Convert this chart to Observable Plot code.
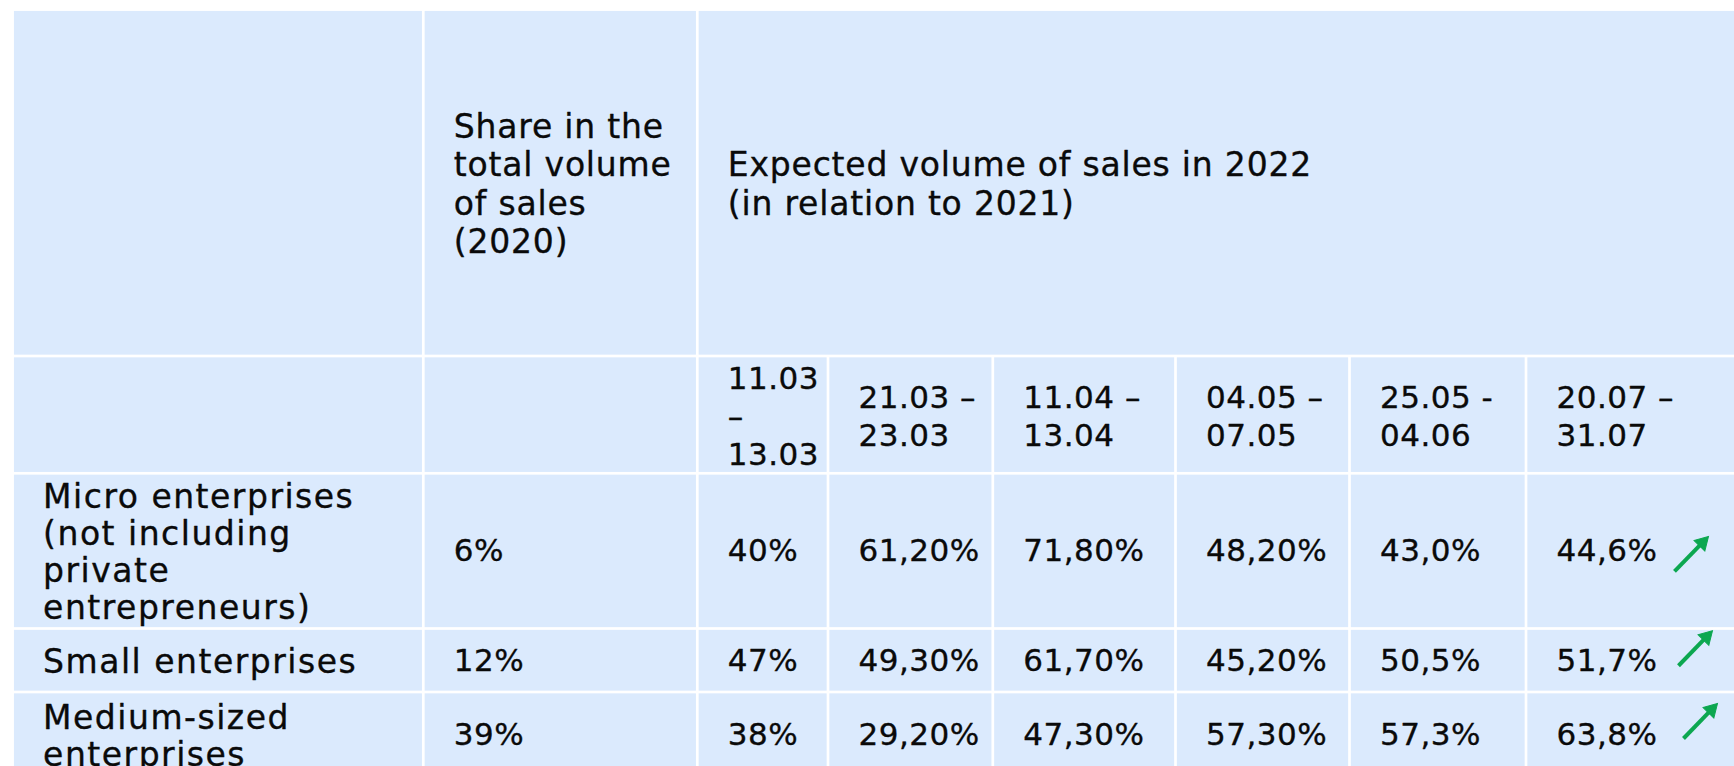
<!DOCTYPE html>
<html>
<head>
<meta charset="utf-8">
<script src="https://cdn.jsdelivr.net/npm/d3@7"></script>
<script src="https://cdn.jsdelivr.net/npm/@observablehq/plot@0.6"></script>
<style>
  html, body { margin: 0; padding: 0; background: #ffffff; overflow: hidden; }
  #chart svg { display: block; }
</style>
</head>
<body>
<div id="chart"></div>
<script>
// ---------------- DATA ----------------
const headerShare = "Share in the\ntotal volume\nof sales\n(2020)";
const headerExpected = "Expected volume of sales in 2022\n(in relation to 2021)";
const periods = ["11.03\n–\n13.03", "21.03 –\n23.03", "11.04 –\n13.04", "04.05 –\n07.05", "25.05 -\n04.06", "20.07 –\n31.07"];
const rowLabels = ["Micro enterprises\n(not including\nprivate\nentrepreneurs)", "Small enterprises", "Medium-sized\nenterprises"];
const share2020 = ["6%", "12%", "39%"];
const expectedMicro  = ["40%", "61,20%", "71,80%", "48,20%", "43,0%", "44,6%"];
const expectedSmall  = ["47%", "49,30%", "61,70%", "45,20%", "50,5%", "51,7%"];
const expectedMedium = ["38%", "29,20%", "47,30%", "57,30%", "57,3%", "63,8%"];
const trend = ["up", "up", "up"];

// ---------------- LAYOUT ----------------
const W = 1734, H = 766;
const colWidths = [410.7, 274, 130.7, 164.8, 182.7, 174, 176.5, 240];
const rowHeights = [346.4, 117.3, 155.2, 63.5, 86];
const origin = [12.6, 9.6];
const gap = 2.7;
const pad = 30;
const arrowBase = {dx: 148, dy: 20, len: [34, -35], head: 13};
const arrowNudge = [[0, 0], [4, -15], [9, -17]];
const cellFill = "#dbeafd";
const ink = "#0a0a0a";
const green = "#0ca750";

const colX = [origin[0]];
colWidths.forEach(w => colX.push(colX[colX.length - 1] + w));
const rowY = [origin[1]];
rowHeights.forEach(h => rowY.push(rowY[rowY.length - 1] + h));
const mid = (a, i) => (a[i] + a[i + 1]) / 2;

// cells
const cells = [];
const cell = (c0, c1, r0, r1) => cells.push({x1: colX[c0], x2: colX[c1], y1: rowY[r0], y2: rowY[r1]});
cell(0, 1, 0, 1); cell(1, 2, 0, 1); cell(2, 8, 0, 1);
for (let r = 1; r < rowHeights.length; r++) for (let c = 0; c < colWidths.length; c++) cell(c, c + 1, r, r + 1);

// texts
const headerTexts = [
  {x: colX[1] + pad, y: mid(rowY, 0), text: headerShare},
  {x: colX[2] + pad, y: mid(rowY, 0), text: headerExpected}
];
const periodTexts = periods.map((p, i) => ({x: colX[2 + i] + pad, y: mid(rowY, 1), text: p}));
const labelTexts = rowLabels.map((l, i) => ({x: colX[0] + pad, y: mid(rowY, 2 + i), text: l}));
const expectedRows = [expectedMicro, expectedSmall, expectedMedium];
const valueTexts = [];
share2020.forEach((v, i) => valueTexts.push({x: colX[1] + pad, y: mid(rowY, 2 + i), text: v}));
expectedRows.forEach((row, i) => row.forEach((v, j) => valueTexts.push({x: colX[2 + j] + pad, y: mid(rowY, 2 + i), text: v})));

// trend arrows: shaft (link) + filled triangular head (rotated dot)
const [ldx, ldy] = arrowBase.len;
const L = Math.hypot(ldx, ldy);
const ux = ldx / L, uy = ldy / L;
const headAngle = Math.atan2(ldx, -ldy) * 180 / Math.PI;
const headToCenter = arrowBase.head * 2 / 3;
const headR = Math.sqrt((arrowBase.head / 3) ** 2 * 3 * Math.sqrt(3) / Math.PI);
const arrows = trend.map((t, i) => {
  if (t !== "up") return null;
  const x1 = colX[7] + arrowBase.dx + arrowNudge[i][0];
  const y1 = mid(rowY, 2 + i) + arrowBase.dy + arrowNudge[i][1];
  const tx = x1 + ldx, ty = y1 + ldy;
  return {x1, y1, hx: tx - ux * headToCenter, hy: ty - uy * headToCenter};
}).filter(d => d);

const font = "DejaVu Sans";
const textStyle = {x: "x", y: "y", text: "text", textAnchor: "start", lineAnchor: "middle", fontFamily: font, fill: ink, stroke: ink, strokeWidth: 0.35};
const chart = Plot.plot({
  width: W, height: H, margin: 0,
  x: {type: "linear", domain: [0, W], range: [0, W], axis: null},
  y: {type: "linear", domain: [0, H], range: [0, H], axis: null},
  style: {background: "#ffffff", overflow: "hidden"},
  marks: [
    Plot.rect(cells, {x1: "x1", x2: "x2", y1: "y1", y2: "y2", fill: cellFill, inset: gap / 2, clip: true}),
    Plot.text(headerTexts, {...textStyle, lineHeight: 1.16, fontSize: 33}),
    Plot.text(periodTexts, {...textStyle, lineHeight: 1.23, fontSize: 31}),
    Plot.text(labelTexts, {...textStyle, lineHeight: 1.12, fontSize: 33}),
    Plot.text(valueTexts, {...textStyle, fontSize: 31}),
    Plot.link(arrows, {x1: "x1", y1: "y1", x2: "hx", y2: "hy", stroke: green, strokeWidth: 4, strokeLinecap: "butt"}),
    Plot.dot(arrows, {x: "hx", y: "hy", symbol: "triangle", r: headR, fill: green, stroke: green, strokeWidth: 1, rotate: headAngle})
  ]
});
// letter spacing per text group (headers, periods, labels, values)
const groups = chart.querySelectorAll('g[aria-label="text"]');
const spacing = [0.8, 0.5, 1.5, 0.5];
groups.forEach((g, i) => g.setAttribute("letter-spacing", spacing[i] ?? 0));
document.getElementById("chart").appendChild(chart);
</script>
</body>
</html>
